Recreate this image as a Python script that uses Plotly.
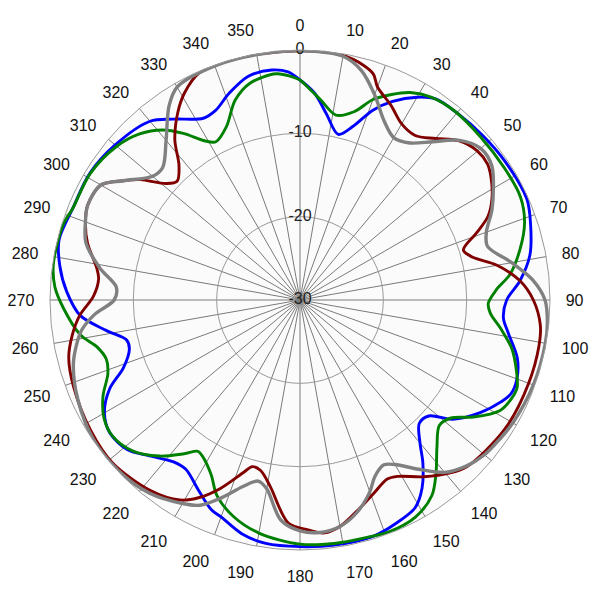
import plotly.graph_objects as go

# ---- data (dB vs azimuth, degrees, clockwise from top) ----
blue_theta = [0,4,8,13,17,21,25,30,34,40,48,56,66,72,79,85,90,95,99,105,110,114,117,122,128,132,136,140,143,147,151,157,163,172,180,188,194,200,203,208,214,218,224,229,235,240,245,249,254,257,261,266,272,278,284,292,301,310,320,325,332,336,341,347,353,357]
blue_r = [-3.6,-5.1,-7.4,-9.6,-8.2,-5.6,-3.7,-1.9,-0.9,-0.7,-0.5,-0.3,-0.2,-0.9,-1.9,-3.5,-5.2,-5.5,-4.7,-3.0,-2.3,-2.3,-3.0,-4.5,-6.75,-9.2,-9.4,-7.6,-5.5,-3.1,-1.5,-0.8,-0.3,-0.3,-0.4,-0.5,-1.1,-2.3,-2.7,-4.1,-5.5,-5.35,-4.0,-2.6,-2.15,-2.9,-4.8,-7.3,-8.7,-8.65,-6.5,-3.55,-2.0,-0.9,-0.2,-0.6,-0.55,-1.05,-2.0,-3.5,-5.3,-5.1,-3.8,-2.45,-2.2,-2.6]

green_theta = [0,2,6,11,16,20,24,28,33,39,48,57,65,71,77,83,87,91,94,98,103,108,112,115,119,124,128,132,137,142,146,152,159,164,172,180,190,197,203,207,212,214,217,222,228,234,239,244,249,253,257,261,268,273,278,283,288,292,301,310,316,321,325,329,332,337,342,347,354,358]
green_r = [-3.6,-4.4,-5.9,-7.4,-6.5,-4.4,-3.0,-1.8,-1.0,-0.7,-0.8,-0.8,-0.8,-1.5,-2.9,-4.6,-6.4,-7.4,-7.1,-5.7,-3.9,-2.7,-1.9,-2.0,-2.6,-4.9,-7.0,-7.5,-5.9,-3.5,-1.7,-0.5,-0.2,-0.4,-0.5,-0.7,-1.6,-2.8,-4.5,-6.5,-7.9,-8.1,-6.9,-4.8,-2.95,-2.2,-2.55,-3.7,-5.3,-5.7,-5.0,-3.3,-1.6,-0.55,-0.1,-0.1,-0.2,-0.6,-0.6,-1.3,-2.3,-3.75,-5.6,-7.7,-8.5,-7.4,-4.8,-3.3,-2.7,-3.2]

red_theta = [0,10,15,18,20,25,30,35,40,45,50,54,57,62,66,69,73,76,80,85,90,96,101,110,121,129,135,139,145,151,154,159,164,170,174,178,183,189,193,196,198,203,207,211,218,229,238,249,256,261,266,271,276,279,285,290,294,300,304,307,311,314,318,322,327,331,336,345]
red_r = [-0.1,-0.2,-0.8,-1.5,-2.8,-4.2,-5.6,-5.9,-4.7,-3.0,-2.2,-2.2,-2.7,-3.9,-5.3,-7.2,-9.5,-8.7,-6.0,-3.5,-2.0,-1.0,-0.8,-0.8,-0.9,-1.3,-1.7,-2.5,-4.1,-5.8,-6.1,-5.2,-4.0,-2.4,-1.9,-2.4,-3.2,-7.3,-9.0,-9.2,-8.3,-5.4,-3.4,-2.0,-0.95,-0.2,-0.4,-0.9,-1.4,-2.3,-3.5,-5.2,-5.7,-5.3,-3.6,-2.6,-2.1,-2.4,-4.4,-6.0,-8.7,-9.5,-8.3,-5.6,-3.1,-1.5,-0.2,0.0]

gray_theta = [0,10,15,20,25,30,35,40,45,50,55,60,65,70,74,80,85,90,95,100,110,120,125,130,135,140,145,150,153,157,160,165,170,175,180,185,190,193,197,202,206,210,218,227,236,246,254,258,262,266,270,274,279,285,290,294,300,304,310,314,320,326,330,340,350]
gray_r = [-0.1,-0.3,-1.5,-3.8,-6.2,-7.5,-7.0,-5.2,-2.9,-1.7,-1.9,-3.2,-4.6,-6.2,-6.6,-4.2,-2.0,-0.6,-0.2,-0.1,-0.2,-0.5,-0.8,-1.1,-1.8,-3.0,-5.2,-7.2,-7.8,-7.0,-5.5,-3.6,-2.4,-2.0,-2.3,-3.5,-7.0,-7.7,-6.6,-4.3,-2.6,-1.8,-0.6,-0.1,-0.1,-0.8,-1.7,-2.5,-3.5,-5.3,-7.7,-7.9,-5.7,-3.4,-2.6,-2.1,-2.4,-4.4,-6.9,-7.1,-5.0,-1.9,-0.5,-0.1,-0.1]

radial_ticks = [-30, -20, -10, 0]
radial_labels = ["-30", "-20", "-10", "0"]
angle_ticks = list(range(0, 360, 10))
angle_labels = [str(a) for a in angle_ticks]

series = [
    (blue_theta, blue_r, "#0000ff", 2.9),
    (green_theta, green_r, "#008000", 2.9),
    (red_theta, red_r, "#800000", 2.9),
    (gray_theta, gray_r, "#808080", 3.4),
]

fig = go.Figure()
for th, rr, col, w in series:
    fig.add_trace(go.Scatterpolar(
        theta=th + [th[0] + 360], r=rr + [rr[0]],
        mode="lines", line=dict(color=col, width=w, shape="spline", smoothing=0.9),
        cliponaxis=False, hoverinfo="skip", showlegend=False))

# radial labels drawn along the 0° spoke
fig.add_trace(go.Scatterpolar(
    theta=[0] * len(radial_ticks), r=radial_ticks, text=radial_labels,
    mode="text", textposition="middle center",
    textfont=dict(family="Liberation Sans, Arial, sans-serif", size=16, color="#222222"),
    cliponaxis=False, hoverinfo="skip", showlegend=False))

fig.update_layout(
    width=600, height=600,
    margin=dict(l=42, r=58, t=42, b=58),
    paper_bgcolor="white",
    showlegend=False,
    font=dict(family="Liberation Sans, Arial, sans-serif", size=16, color="#111111"),
    polar=dict(
        bgcolor="#fbfbfb",
        domain=dict(x=[0, 1], y=[0, 1]),
        angularaxis=dict(
            rotation=90, direction="clockwise",
            tickmode="array", tickvals=angle_ticks, ticktext=angle_labels,
            showgrid=True, gridcolor="#7a7a7a", gridwidth=1,
            showline=True, linecolor="#999999", linewidth=1,
            ticks="outside", ticklen=12, tickcolor="rgba(0,0,0,0)",
            tickfont=dict(size=16, color="#111111"),
        ),
        radialaxis=dict(
            range=[-30, 0], tickvals=radial_ticks, showticklabels=False,
            showgrid=True, gridcolor="#9a9a9a", gridwidth=1,
            showline=False, ticks="",
        ),
    ),
)

fig.write_html("out.html")
